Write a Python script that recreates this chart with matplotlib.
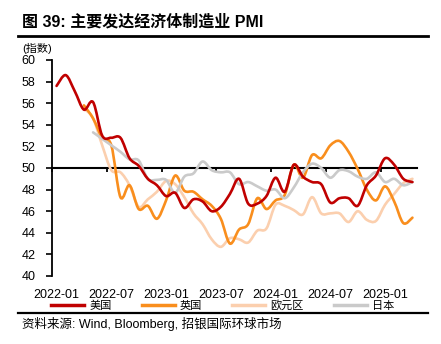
import matplotlib
matplotlib.use("Agg")
import matplotlib.pyplot as plt
from matplotlib.path import Path
from matplotlib.patches import PathPatch
from matplotlib.lines import Line2D
import numpy as np

plt.rcParams['font.family'] = ['Liberation Sans', 'Noto Sans CJK SC', 'DejaVu Sans']

# 2022-01 ~ 2025-04, 月度
months = ["2022-01", "2022-02", "2022-03", "2022-04", "2022-05", "2022-06",
          "2022-07", "2022-08", "2022-09", "2022-10", "2022-11", "2022-12",
          "2023-01", "2023-02", "2023-03", "2023-04", "2023-05", "2023-06",
          "2023-07", "2023-08", "2023-09", "2023-10", "2023-11", "2023-12",
          "2024-01", "2024-02", "2024-03", "2024-04", "2024-05", "2024-06",
          "2024-07", "2024-08", "2024-09", "2024-10", "2024-11", "2024-12",
          "2025-01", "2025-02", "2025-03", "2025-04"]
tick_labels = ["2022-01", "2022-07", "2023-01", "2023-07", "2024-01", "2024-07", "2025-01"]

us = [57.6, 58.6, 57.1, 55.4, 56.1, 53.0, 52.8, 52.8, 50.9, 50.2, 49.0, 48.4,
      47.4, 47.7, 46.3, 47.1, 46.9, 46.0, 46.4, 47.6, 49.0, 46.7, 46.7, 47.4,
      49.1, 47.8, 50.3, 49.2, 48.7, 48.5, 46.8, 47.2, 47.2, 46.5, 48.4, 49.3,
      50.9, 50.3, 49.0, 48.7]
uk = [None, None, None, 55.8, 54.6, 52.8, 52.1, 47.3, 48.4, 46.2, 46.5, 45.3,
      47.0, 49.3, 47.9, 47.8, 47.1, 46.5, 45.3, 43.0, 44.3, 44.8, 47.2, 46.2,
      47.0, 47.5, 50.3, 49.1, 51.2, 50.9, 52.1, 52.5, 51.5, 49.9, 48.0, 47.0,
      48.3, 46.9, 44.9, 45.4]
ez = [None, None, None, 55.5, 54.6, 52.1, 49.8, 49.6, 48.4, 46.4, 47.1, 47.8,
      48.8, 48.5, 47.3, 45.8, 44.8, 43.4, 42.7, 43.5, 43.4, 43.1, 44.2, 44.4,
      46.6, 46.5, 46.1, 45.7, 47.3, 45.8, 45.8, 45.8, 45.0, 46.0, 45.2, 45.1,
      46.6, 47.6, 48.6, 49.0]
jp = [None, None, None, None, 53.3, 52.7, 52.1, 51.5, 50.8, 50.7, 49.0, 48.9,
      48.9, 47.7, 49.2, 49.5, 50.6, 49.8, 49.6, 49.6, 48.5, 48.7, 48.3, 47.9,
      48.0, 47.2, 48.2, 49.6, 50.4, 50.0, 49.1, 49.8, 49.7, 49.2, 49.0, 49.6,
      48.7, 49.0, 48.4, 48.7]

names = ["美国", "英国", "欧元区", "日本"]
colors = ["#C00000", "#F98E1D", "#FBCFAE", "#CACACA"]


def smooth_path(vals):
    # 类似 Excel 平滑线: 用三次贝塞尔连接各数据点
    pts = [(i, v) for i, v in enumerate(vals) if v is not None]
    pts = np.array(pts, dtype=float)
    n = len(pts)
    verts = [pts[0]]
    codes = [Path.MOVETO]
    for k in range(n - 1):
        p0 = pts[k - 1] if k > 0 else pts[k]
        p1 = pts[k]
        p2 = pts[k + 1]
        p3 = pts[k + 2] if k + 2 < n else pts[k + 1]
        c1 = p1 + (p2 - p0) / 6
        c2 = p2 - (p3 - p1) / 6
        verts += [c1, c2, p2]
        codes += [Path.CURVE4] * 3
    return Path(verts, codes)


fig = plt.figure(figsize=(4.41, 3.44), dpi=100)
ax = fig.add_axes([52 / 441, 68 / 344, 365 / 441, 216 / 344])

series = [us, uk, ez, jp]
zs = [5, 3, 2, 4]
for vals, c, z in zip(series, colors, zs):
    patch = PathPatch(smooth_path(vals), fill=False, edgecolor=c, lw=1.9,
                      capstyle='round', joinstyle='round', zorder=z)
    ax.add_patch(patch)

ax.set_xlim(-0.5, len(months) - 0.5)
ax.set_ylim(40, 60)
ax.set_yticks(np.arange(40, 61, 2))
ax.tick_params(axis='y', length=4, width=1.2, pad=8, labelsize=9, colors='black')

ax.set_xticks([months.index(t) for t in tick_labels])
ax.set_xticklabels(tick_labels)
ax.tick_params(axis='x', length=0, pad=9, labelsize=9)

for s in ['top', 'right', 'bottom']:
    ax.spines[s].set_visible(False)
ax.spines['left'].set_linewidth(1.3)

# 50 线作为横轴
sec = ax.secondary_xaxis(0.5)
sec.set_xticks(np.arange(-0.5, len(months), 6))
sec.set_xticklabels([])
sec.xaxis.set_ticks_position('bottom')
sec.tick_params(length=3, width=1.3, direction='out',
                labelbottom=False, labeltop=False)
for s in ['top', 'bottom']:
    sec.spines[s].set_linewidth(1.5)

handles = [Line2D([], [], color=c, lw=2.5) for c in colors]
fig.legend(handles, names, loc='center', bbox_to_anchor=(0.505, 0.113), ncol=4,
           frameon=False, fontsize=8, handlelength=3, handletextpad=0.45,
           columnspacing=2.7, borderaxespad=0, borderpad=0)

fig.text(22 / 441, 1 - 22 / 344, "图 39: 主要发达经济体制造业 PMI", fontsize=11.5,
         fontweight='bold', va='center', ha='left')
fig.add_artist(Line2D([18 / 441, 428 / 441], [1 - 36 / 344, 1 - 36 / 344],
                      color='black', lw=2))
fig.text(22 / 441, 1 - 48 / 344, "(指数)", fontsize=8, va='center', ha='left')
fig.add_artist(Line2D([18 / 441, 428 / 441], [1 - 313 / 344, 1 - 313 / 344],
                      color='black', lw=1.6))
fig.text(22 / 441, 1 - 324 / 344, "资料来源: Wind, Bloomberg, 招银国际环球市场", fontsize=9,
         va='center', ha='left')

fig.savefig("out.png", dpi=100)
